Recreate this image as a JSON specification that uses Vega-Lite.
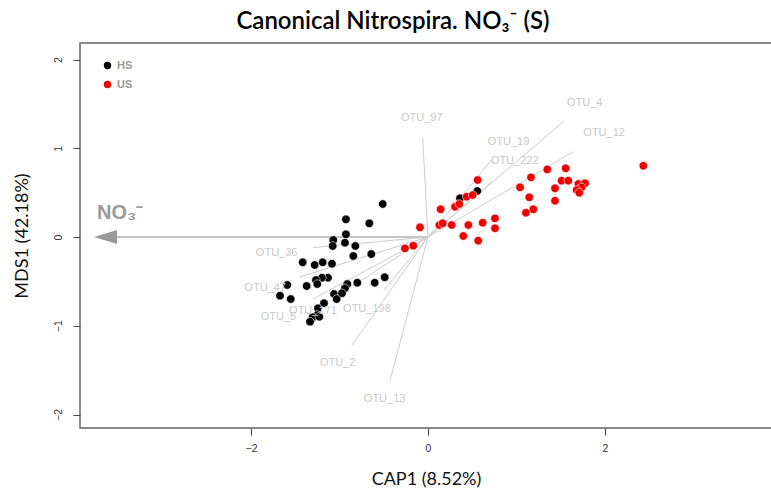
{
  "$schema": "https://vega.github.io/schema/vega-lite/v6.json",
  "width": 692,
  "height": 385,
  "autosize": {"type": "none"},
  "padding": {"left": 80, "top": 43, "right": 0, "bottom": 65},
  "background": "white",
  "config": {
    "view": {"stroke": "#666666", "strokeWidth": 1.5},
    "axis": {"grid": false, "domain": false}
  },
  "title": {
    "text": "Canonical Nitrospira. NO₃⁻ (S)",
    "font": "Lato",
    "fontSize": 24,
    "fontWeight": 600,
    "color": "#000000",
    "anchor": "middle",
    "dx": -33,
    "offset": 9
  },
  "datasets": {
    "sites": [
      {"x": -0.512, "y": 0.372, "g": "HS"},
      {"x": -0.927, "y": 0.199, "g": "HS"},
      {"x": -0.663, "y": 0.154, "g": "HS"},
      {"x": -0.927, "y": 0.03, "g": "HS"},
      {"x": -1.07, "y": -0.034, "g": "HS"},
      {"x": -0.938, "y": -0.064, "g": "HS"},
      {"x": -0.821, "y": -0.101, "g": "HS"},
      {"x": -1.077, "y": -0.101, "g": "HS"},
      {"x": -0.844, "y": -0.214, "g": "HS"},
      {"x": -0.641, "y": -0.192, "g": "HS"},
      {"x": -1.416, "y": -0.285, "g": "HS"},
      {"x": -1.28, "y": -0.315, "g": "HS"},
      {"x": -1.19, "y": -0.285, "g": "HS"},
      {"x": -1.085, "y": -0.301, "g": "HS"},
      {"x": -0.489, "y": -0.454, "g": "HS"},
      {"x": -0.602, "y": -0.515, "g": "HS"},
      {"x": -0.799, "y": -0.515, "g": "HS"},
      {"x": -0.912, "y": -0.53, "g": "HS"},
      {"x": -0.938, "y": -0.578, "g": "HS"},
      {"x": -1.13, "y": -0.459, "g": "HS"},
      {"x": -1.198, "y": -0.459, "g": "HS"},
      {"x": -1.266, "y": -0.485, "g": "HS"},
      {"x": -1.251, "y": -0.53, "g": "HS"},
      {"x": -1.371, "y": -0.552, "g": "HS"},
      {"x": -1.59, "y": -0.541, "g": "HS"},
      {"x": -1.672, "y": -0.661, "g": "HS"},
      {"x": -1.551, "y": -0.699, "g": "HS"},
      {"x": -1.062, "y": -0.642, "g": "HS"},
      {"x": -0.972, "y": -0.634, "g": "HS"},
      {"x": -1.032, "y": -0.699, "g": "HS"},
      {"x": -1.175, "y": -0.747, "g": "HS"},
      {"x": -1.243, "y": -0.803, "g": "HS"},
      {"x": -1.251, "y": -0.879, "g": "HS"},
      {"x": -1.303, "y": -0.905, "g": "HS"},
      {"x": -1.228, "y": -0.898, "g": "HS"},
      {"x": -1.333, "y": -0.954, "g": "HS"},
      {"x": 0.362, "y": 0.436, "g": "HS"},
      {"x": 0.557, "y": 0.518, "g": "HS"},
      {"x": 2.433, "y": 0.803, "g": "US"},
      {"x": 0.561, "y": 0.642, "g": "US"},
      {"x": 1.348, "y": 0.762, "g": "US"},
      {"x": 1.556, "y": 0.774, "g": "US"},
      {"x": 1.164, "y": 0.672, "g": "US"},
      {"x": 1.51, "y": 0.635, "g": "US"},
      {"x": 1.585, "y": 0.635, "g": "US"},
      {"x": 1.699, "y": 0.597, "g": "US"},
      {"x": 1.774, "y": 0.605, "g": "US"},
      {"x": 1.736, "y": 0.56, "g": "US"},
      {"x": 1.68, "y": 0.53, "g": "US"},
      {"x": 1.71, "y": 0.499, "g": "US"},
      {"x": 1.04, "y": 0.56, "g": "US"},
      {"x": 1.435, "y": 0.549, "g": "US"},
      {"x": 1.145, "y": 0.447, "g": "US"},
      {"x": 1.435, "y": 0.409, "g": "US"},
      {"x": 1.19, "y": 0.312, "g": "US"},
      {"x": 1.107, "y": 0.274, "g": "US"},
      {"x": 0.437, "y": 0.454, "g": "US"},
      {"x": 0.505, "y": 0.473, "g": "US"},
      {"x": 0.305, "y": 0.341, "g": "US"},
      {"x": 0.354, "y": 0.372, "g": "US"},
      {"x": 0.143, "y": 0.312, "g": "US"},
      {"x": 0.128, "y": 0.135, "g": "US"},
      {"x": 0.166, "y": 0.154, "g": "US"},
      {"x": 0.268, "y": 0.135, "g": "US"},
      {"x": 0.456, "y": 0.135, "g": "US"},
      {"x": 0.618, "y": 0.161, "g": "US"},
      {"x": 0.757, "y": 0.21, "g": "US"},
      {"x": 0.757, "y": 0.098, "g": "US"},
      {"x": 0.399, "y": 0.011, "g": "US"},
      {"x": 0.568, "y": -0.041, "g": "US"},
      {"x": -0.09, "y": 0.109, "g": "US"},
      {"x": -0.26, "y": -0.128, "g": "US"},
      {"x": -0.166, "y": -0.098, "g": "US"}
    ],
    "otus": [
      {"otu": "OTU_97", "tx": -0.06, "ty": 1.12, "lx": -0.07, "ly": 1.34},
      {"otu": "OTU_4", "tx": 1.54, "ty": 1.31, "lx": 1.77, "ly": 1.51},
      {"otu": "OTU_12", "tx": 1.64, "ty": 0.96, "lx": 1.99, "ly": 1.17},
      {"otu": "OTU_19", "tx": 0.72, "ty": 0.87, "lx": 0.91, "ly": 1.07},
      {"otu": "OTU_222", "tx": 0.72, "ty": 0.62, "lx": 0.98, "ly": 0.86},
      {"otu": "OTU_36", "tx": -1.3, "ty": -0.12, "lx": -1.71, "ly": -0.18},
      {"otu": "OTU_47", "tx": -1.45, "ty": -0.45, "lx": -1.84, "ly": -0.57},
      {"otu": "OTU_5", "tx": -1.3, "ty": -0.7, "lx": -1.69, "ly": -0.905},
      {"otu": "OTU_171", "tx": -1.05, "ty": -0.68, "lx": -1.3, "ly": -0.83},
      {"otu": "OTU_198", "tx": -0.5, "ty": -0.6, "lx": -0.69, "ly": -0.81},
      {"otu": "OTU_2", "tx": -0.86, "ty": -1.22, "lx": -1.02, "ly": -1.42},
      {"otu": "OTU_13", "tx": -0.43, "ty": -1.62, "lx": -0.49, "ly": -1.83}
    ],
    "env": [
      {"name": "NO₃⁻", "tx": -3.55, "hx": -3.644, "lx": -3.74, "ly": 0.27}
    ]
  },
  "layer": [
    {
      "mark": {"type": "rule", "color": "#555555", "strokeDash": [1.5, 1.5], "strokeWidth": 1},
      "encoding": {"y": {"datum": 0, "type": "quantitative", "scale": {"domain": [-2.152, 2.186], "nice": false, "zero": false}, "axis": {"values": [-2, -1, 0, 1, 2], "format": "d", "title": "MDS1 (42.18%)", "labelAngle": -90, "labelAlign": "center", "labelBaseline": "bottom", "labelPadding": 10, "tickSize": 7, "tickColor": "#444444", "labelFont": "Liberation Sans", "labelFontSize": 10.5, "labelColor": "#333333", "titleFont": "Lato", "titleFontSize": 18, "titleFontWeight": "normal", "titleColor": "#111111", "titlePadding": 22}}}
    },
    {
      "mark": {"type": "rule", "color": "#555555", "strokeDash": [1.5, 1.5], "strokeWidth": 1},
      "encoding": {"x": {"datum": 0, "type": "quantitative", "scale": {"domain": [-3.932, 3.887], "nice": false, "zero": false}, "axis": {"values": [-2, 0, 2], "format": "d", "title": "CAP1 (8.52%)", "tickSize": 7, "tickColor": "#444444", "labelFont": "Liberation Sans", "labelFontSize": 10.5, "labelColor": "#333333", "labelPadding": 8, "titleFont": "Lato", "titleFontSize": 18, "titleFontWeight": "normal", "titleColor": "#111111", "titlePadding": 17}}}
    },
    {
      "data": {"name": "env"},
      "mark": {"type": "rule", "color": "#c4c4c4", "strokeWidth": 1.8},
      "encoding": {
        "x": {"field": "tx", "type": "quantitative"},
        "x2": {"datum": 0},
        "y": {"datum": 0, "type": "quantitative"}
      }
    },
    {
      "data": {"name": "otus"},
      "mark": {"type": "rule", "color": "#cccccc", "strokeWidth": 1},
      "encoding": {
        "x": {"field": "tx", "type": "quantitative"},
        "y": {"field": "ty", "type": "quantitative"},
        "x2": {"datum": 0},
        "y2": {"datum": 0}
      }
    },
    {
      "data": {"name": "sites"},
      "mark": {"type": "point", "filled": true, "shape": "circle", "size": 72, "stroke": "#ffffff", "strokeWidth": 0.6, "opacity": 1},
      "encoding": {
        "x": {"field": "x", "type": "quantitative"},
        "y": {"field": "y", "type": "quantitative"},
        "fill": {"field": "g", "type": "nominal", "scale": {"domain": ["HS", "US"], "range": ["#000000", "#ee0000"]},
          "legend": {"title": null, "orient": "none", "legendX": 22, "legendY": 17, "padding": 0, "symbolType": "circle", "symbolSize": 55, "symbolStrokeWidth": 0, "labelFont": "Liberation Sans", "labelFontSize": 11, "labelFontWeight": "bold", "labelColor": "#999999", "rowPadding": 7, "labelOffset": 4}}
      }
    },
    {
      "data": {"name": "otus"},
      "mark": {"type": "text", "color": "#c8c8c8", "font": "Liberation Sans", "fontSize": 11, "align": "center", "baseline": "middle"},
      "encoding": {
        "x": {"field": "lx", "type": "quantitative"},
        "y": {"field": "ly", "type": "quantitative"},
        "text": {"field": "otu"}
      }
    },
    {
      "data": {"name": "env"},
      "mark": {"type": "point", "filled": true, "shape": "M-1,0L1,-0.6L1,0.6Z", "size": 529, "color": "#9a9a9a", "opacity": 1, "strokeWidth": 0},
      "encoding": {
        "x": {"field": "hx", "type": "quantitative"},
        "y": {"datum": 0, "type": "quantitative"}
      }
    },
    {
      "data": {"name": "env"},
      "mark": {"type": "text", "color": "#9a9a9a", "font": "Liberation Sans", "fontSize": 20, "fontWeight": "bold", "align": "left", "baseline": "middle"},
      "encoding": {
        "x": {"field": "lx", "type": "quantitative"},
        "y": {"field": "ly", "type": "quantitative"},
        "text": {"field": "name"}
      }
    }
  ]
}
